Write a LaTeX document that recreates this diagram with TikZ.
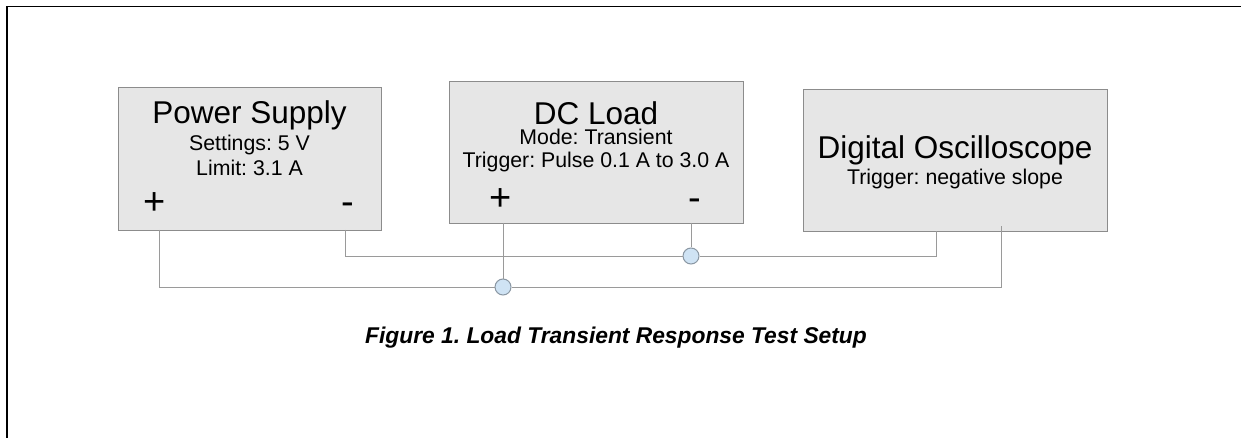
\documentclass[tikz,border=0pt]{standalone}
\usepackage{fontspec}
\setmainfont{Liberation Sans}
\frenchspacing
\definecolor{boxfill}{HTML}{E6E6E6}
\definecolor{boxline}{HTML}{8C8C8C}
\definecolor{wirec}{HTML}{9A9A9A}
\definecolor{jfill}{HTML}{CFE3F4}
\definecolor{jline}{HTML}{8A97A3}
\begin{document}
\begin{tikzpicture}[x=1pt,y=-1pt,
  device/.style={draw=boxline, fill=boxfill, line width=1pt, anchor=north west, inner sep=0pt},
  title/.style={anchor=base, inner sep=0pt, text depth=0pt, font=\fontsize{31.5}{31.5}\selectfont},
  sub/.style={anchor=base, inner sep=0pt, text height=15pt, font=\fontsize{21.3}{21.3}\selectfont},
  term/.style={anchor=base, inner sep=0pt, font=\fontsize{38}{38}\selectfont},
  wire/.style={draw=wirec, line width=1pt},
  junc/.style={circle, draw=jline, fill=jfill, line width=1pt, minimum size=16pt, inner sep=0pt}]
\useasboundingbox (0,0) rectangle (1241,438);
\fill[white] (0,0) rectangle (1241,438);
\draw[line width=1.5pt] (7,438) -- (7,6.5) -- (1241,6.5);

% devices
\node[device, minimum width=263pt, minimum height=143pt] (ps) at (118,87) {};
\node[device, minimum width=294pt, minimum height=142pt] (dc) at (449,81) {};
\node[device, minimum width=304pt, minimum height=142pt] (osc) at (803,89) {};

% texts
\node[title] (pst) at (249.5,124) {Power Supply};
\node[sub] (ps1) at (249.5,151) {Settings: 5 V};
\node[sub] (ps2) at (249.5,176) {Limit: 3.1 A};
\node[term] (psplus) at (155,215) {+};
\node[term] (psminus) at (348,215) {-};

\node[title] (dct) at (596,125) {DC Load};
\node[sub] (dc1) at (596,145) {Mode: Transient};
\node[sub] (dc2) at (596,168) {Trigger: Pulse 0.1 A to 3.0 A};
\node[term] (dcplus) at (501,211) {+};
\node[term] (dcminus) at (695,211) {-};

\node[title] (osct) at (955,159) {Digital Oscilloscope};
\node[sub] (osc1) at (955,185) {Trigger: negative slope};

% terminals
\coordinate (psp) at (159,230);
\coordinate (psm) at (345,230);
\coordinate (dcp) at (503,223);
\coordinate (dcm) at (691,223);
\coordinate (oscm) at (936,231);
\coordinate (oscp) at (1001,226);

% junctions
\node[junc] (j1) at (503,287) {};
\node[junc] (j2) at (691,256) {};

% wires
\draw[wire] (psp) |- (j1);
\draw[wire] (j1) -| (oscp);
\draw[wire] (dcp) -- (j1);
\draw[wire] (psm) |- (j2);
\draw[wire] (j2) -| (oscm);
\draw[wire] (dcm) -- (j2);

% caption
\node[anchor=base, inner sep=0pt, font=\fontsize{22.8}{22.8}\selectfont\bfseries\itshape] (cap) at (616,343) {Figure 1. Load Transient Response Test Setup};
\end{tikzpicture}
\end{document}
